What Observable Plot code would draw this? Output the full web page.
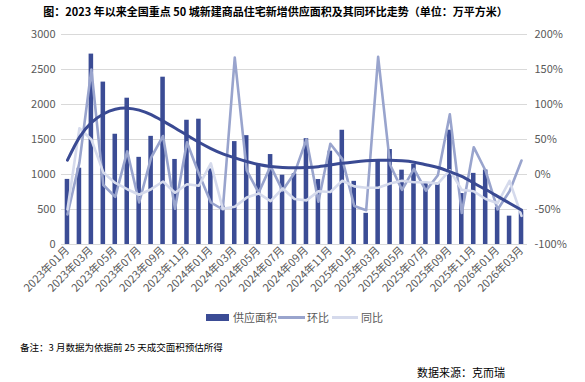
<!DOCTYPE html>
<html>
<head>
<meta charset="utf-8">
<script src="https://cdn.jsdelivr.net/npm/d3@7"></script>
<script src="https://cdn.jsdelivr.net/npm/@observablehq/plot@0.6"></script>
<style>
  html, body { margin: 0; padding: 0; background: #fff; }
  #wrap { position: relative; width: 585px; height: 382px; overflow: hidden; font-family: "Noto Sans CJK SC", "Noto Sans", sans-serif; }
  #title { position: absolute; left: 0; top: 3px; width: 551px; text-align: center; font-size: 11px; font-weight: bold; color: #000; white-space: nowrap; }
  #chart { position: absolute; left: 0; top: 0; }
  #legend { position: absolute; left: 0; top: 309px; width: 585px; height: 16px; font-size: 11px; color: #595959; }
  .sw { position: absolute; }
  .lt { position: absolute; top: 0; line-height: 16px; }
  #note { position: absolute; left: 20px; top: 340px; font-size: 9.5px; color: #000; white-space: nowrap; }
  #source { position: absolute; left: 417px; top: 364px; font-size: 11px; color: #000; white-space: nowrap; }
</style>
</head>
<body>
<div id="wrap">
  <div id="chart"></div>
  <div id="title">图：2023 年以来全国重点 50 城新建商品住宅新增供应面积及其同环比走势（单位：万平方米）</div>
  <div id="legend"></div>
  <div id="note">备注：3 月数据为依据前 25 天成交面积预估所得</div>
  <div id="source">数据来源：克而瑞</div>
</div>
<script>
const months = [
  "2023年01月","2023年02月","2023年03月","2023年04月","2023年05月","2023年06月",
  "2023年07月","2023年08月","2023年09月","2023年10月","2023年11月","2023年12月",
  "2024年01月","2024年02月","2024年03月","2024年04月","2024年05月","2024年06月",
  "2024年07月","2024年08月","2024年09月","2024年10月","2024年11月","2024年12月",
  "2025年01月","2025年02月","2025年03月","2025年04月","2025年05月","2025年06月",
  "2025年07月","2025年08月","2025年09月","2025年10月","2025年11月","2025年12月",
  "2026年01月","2026年02月","2026年03月"
];
// 供应面积 (万平方米)
const supply = [930,1090,2720,2320,1575,2090,1245,1545,2390,1215,1775,1790,
  1080,550,1470,1555,1150,1285,990,1010,1512,928,1333,1632,
  902,445,1195,1357,1062,1145,885,880,1633,728,1016,1064,
  530,405,478];
// 环比 (%)
const mom = [-57,17,150,-15,-32,33,-40,24,55,-49,46,1,
  -40,-50,167,6,-26,12,-23,2,50,-39,44,22,
  -45,-51,168,14,-22,8,-23,-1,86,-55,39,5,
  -50,-24,20];
// 同比 (%)
const yoy = [-50,66,50,3,-12,-21,-29,-21,-10,-26,-14,-16,
  16,-49,-46,-33,-27,-38,-20,-35,-37,-24,-25,-9,
  -17,-19,-19,-13,-9,-11,-11,-13,6,-22,-24,-35,
  -41,-9,-59];
// 供应面积趋势线
const trend = [1205,1530,1740,1865,1932,1948,1920,1855,1762,1665,1560,1460,
  1370,1295,1238,1185,1142,1114,1100,1095,1100,1112,1135,1160,
  1180,1195,1203,1204,1195,1176,1140,1100,1040,972,878,785,
  688,590,492];
const leftTicks = [0,500,1000,1500,2000,2500,3000];
const tickMonths = months.filter((d, i) => i % 2 === 0);

const legendItems = ["供应面积", "环比", "同比"];
const colors = { bar: "#3B4C95", mom: "#99A4CD", yoy: "#D5DAEC", trend: "#3A4A93" };

const data = months.map((m, i) => ({ month: m, supply: supply[i], mom: mom[i], yoy: yoy[i], trend: trend[i] }));
// percent axis (-100%..200%) mapped onto the left axis domain (0..3000)
const pct = p => (p + 100) * 10;

const chart = Plot.plot({
  width: 585,
  height: 305,
  marginTop: 34,
  marginBottom: 61,
  marginLeft: 61,
  marginRight: 58,
  style: { fontFamily: "'Noto Sans CJK SC', 'Noto Sans', sans-serif", fontSize: "11px", color: "#595959", background: "transparent", overflow: "visible" },
  x: { type: "band", domain: months, paddingInner: 0.62, paddingOuter: 0.31, axis: null },
  y: { domain: [0, 3000], axis: null },
  marks: [
    Plot.ruleY(leftTicks, { stroke: "#d9d9d9", strokeWidth: 1 }),
    Plot.barY(data, { x: "month", y: "supply", fill: colors.bar }),
    Plot.lineY(data, { x: "month", y: d => pct(d.mom), stroke: colors.mom, strokeWidth: 2.6 }),
    Plot.lineY(data, { x: "month", y: d => pct(d.yoy), stroke: colors.yoy, strokeWidth: 2.6 }),
    Plot.lineY(data, { x: "month", y: "trend", stroke: colors.trend, strokeWidth: 3, curve: "natural" }),
    Plot.axisX({ ticks: tickMonths, tickRotate: -45, tickSize: 0, tickPadding: 4, label: null, fill: "#595959" }),
    Plot.axisY({ ticks: leftTicks, anchor: "left", tickSize: 0, tickPadding: 6, label: null, tickFormat: d => String(d), fill: "#595959" }),
    Plot.axisY({ ticks: leftTicks, anchor: "right", tickSize: 0, tickPadding: 7, label: null, tickFormat: d => `${Math.round(d / 10 - 100)}%`, fill: "#595959" })
  ]
});
document.getElementById("chart").appendChild(chart);

// legend
const lg = document.getElementById("legend");
const sw = [
  { left: 206, w: 23, h: 7, color: colors.bar, textLeft: 233 },
  { left: 278, w: 27, h: 3, color: colors.mom, textLeft: 307 },
  { left: 332, w: 26, h: 3, color: colors.yoy, textLeft: 361 }
];
legendItems.forEach((t, i) => {
  const s = document.createElement("div");
  s.className = "sw";
  s.style.left = sw[i].left + "px";
  s.style.width = sw[i].w + "px";
  s.style.height = sw[i].h + "px";
  s.style.top = (8 - sw[i].h / 2) + "px";
  s.style.background = sw[i].color;
  lg.appendChild(s);
  const l = document.createElement("div");
  l.className = "lt";
  l.style.left = sw[i].textLeft + "px";
  l.textContent = t;
  lg.appendChild(l);
});
</script>
</body>
</html>
